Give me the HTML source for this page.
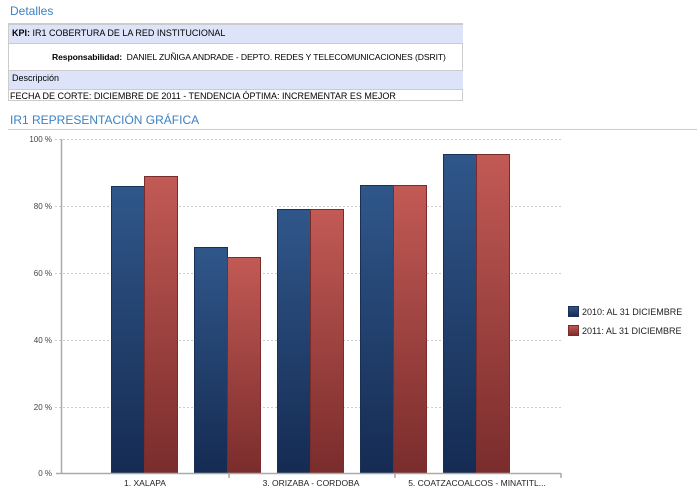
<!DOCTYPE html>
<html><head><meta charset="utf-8"><style>
body{margin:0;width:700px;height:491px;background:#fff;font-family:"Liberation Sans","DejaVu Sans",sans-serif;position:relative;overflow:hidden}
.a{position:absolute;white-space:nowrap}
</style></head><body>
<div class="a" style="left:10px;top:4px;font-size:12px;color:#3b82c4">Detalles</div>
<div class="a" style="left:8px;top:23px;width:455px;height:78px;border:1px solid #ccc;border-top:2px solid #ccc;box-sizing:border-box"></div>
<div class="a" style="left:9px;top:25px;width:454px;height:18px;background:#dde3f8;border-bottom:1px solid #ccc"></div>
<div class="a" style="left:12px;top:28px;font-size:9px;color:#000"><b>KPI:</b> IR1 COBERTURA DE LA RED INSTITUCIONAL</div>
<div class="a" style="left:52px;top:52px;font-size:8.6px;letter-spacing:-0.1px;color:#000"><b>Responsabilidad:</b>&nbsp; DANIEL ZUÑIGA ANDRADE - DEPTO. REDES Y TELECOMUNICACIONES (DSRIT)</div>
<div class="a" style="left:9px;top:70px;width:454px;height:18px;background:#dde3f8;border-top:1px solid #ccc;border-bottom:1px solid #ccc"></div>
<div class="a" style="left:12px;top:73px;font-size:9px;color:#000">Descripción</div>
<div class="a" style="left:10px;top:91px;font-size:9px;color:#000">FECHA DE CORTE: DICIEMBRE DE 2011 - TENDENCIA ÓPTIMA: INCREMENTAR ES MEJOR</div>
<div class="a" style="left:10px;top:113px;font-size:12px;color:#3b82c4">IR1 REPRESENTACIÓN GRÁFICA</div>
<div class="a" style="left:8px;top:129px;width:689px;height:1px;background:#ccc"></div>
<svg class="a" style="left:0;top:0" width="700" height="491">
<defs>
<linearGradient id="b" x1="0" y1="0" x2="0" y2="1"><stop offset="0" stop-color="#30578a"/><stop offset="1" stop-color="#152b52"/></linearGradient>
<linearGradient id="r" x1="0" y1="0" x2="0" y2="1"><stop offset="0" stop-color="#c25a55"/><stop offset="1" stop-color="#7a2c2c"/></linearGradient>
</defs>
<g stroke="#ccc" stroke-dasharray="2,2" stroke-width="1">
<line x1="55" y1="139.5" x2="561" y2="139.5"/><line x1="55" y1="206.5" x2="561" y2="206.5"/><line x1="55" y1="273.5" x2="561" y2="273.5"/><line x1="55" y1="340.5" x2="561" y2="340.5"/><line x1="55" y1="407.5" x2="561" y2="407.5"/>
</g>
<g font-size="8" fill="#444" text-anchor="end" font-family="Liberation Sans,sans-serif">
<text x="52" y="142">100 %</text><text x="52" y="209">80 %</text><text x="52" y="276">60 %</text><text x="52" y="343">40 %</text><text x="52" y="410">20 %</text><text x="52" y="476">0 %</text>
</g>
<g stroke-width="1">
<rect x="111.5" y="186.5" width="33" height="287" fill="url(#b)" stroke="#1a2f55"/>
<rect x="144.5" y="176.5" width="33" height="297" fill="url(#r)" stroke="#7a2c2c"/>
<rect x="194.5" y="247.5" width="33" height="226" fill="url(#b)" stroke="#1a2f55"/>
<rect x="227.5" y="257.5" width="33" height="216" fill="url(#r)" stroke="#7a2c2c"/>
<rect x="277.5" y="209.5" width="33" height="264" fill="url(#b)" stroke="#1a2f55"/>
<rect x="310.5" y="209.5" width="33" height="264" fill="url(#r)" stroke="#7a2c2c"/>
<rect x="360.5" y="185.5" width="33" height="288" fill="url(#b)" stroke="#1a2f55"/>
<rect x="393.5" y="185.5" width="33" height="288" fill="url(#r)" stroke="#7a2c2c"/>
<rect x="443.5" y="154.5" width="33" height="319" fill="url(#b)" stroke="#1a2f55"/>
<rect x="476.5" y="154.5" width="33" height="319" fill="url(#r)" stroke="#7a2c2c"/>
</g>
<g stroke="#aaa" stroke-width="1.5">
<line x1="61.5" y1="139" x2="61.5" y2="474"/>
<line x1="56" y1="473.5" x2="561" y2="473.5"/>
<line x1="229" y1="473" x2="229" y2="478"/><line x1="395" y1="473" x2="395" y2="478"/><line x1="561" y1="473" x2="561" y2="478"/>
</g>
<g font-size="8.5" fill="#222" text-anchor="middle" font-family="Liberation Sans,sans-serif">
<text x="145" y="486">1. XALAPA</text><text x="311" y="486">3. ORIZABA - CORDOBA</text><text x="477" y="486">5. COATZACOALCOS - MINATITL...</text>
</g>
<rect x="568.5" y="306.5" width="10" height="10" fill="url(#b)" stroke="#1a2f55"/>
<rect x="568.5" y="325.5" width="10" height="10" fill="url(#r)" stroke="#7a2c2c"/>
<g font-size="9" fill="#222" font-family="Liberation Sans,sans-serif">
<text x="582" y="315">2010: AL 31 DICIEMBRE</text><text x="582" y="334">2011: AL 31 DICIEMBRE</text>
</g>
</svg>
</body></html>
